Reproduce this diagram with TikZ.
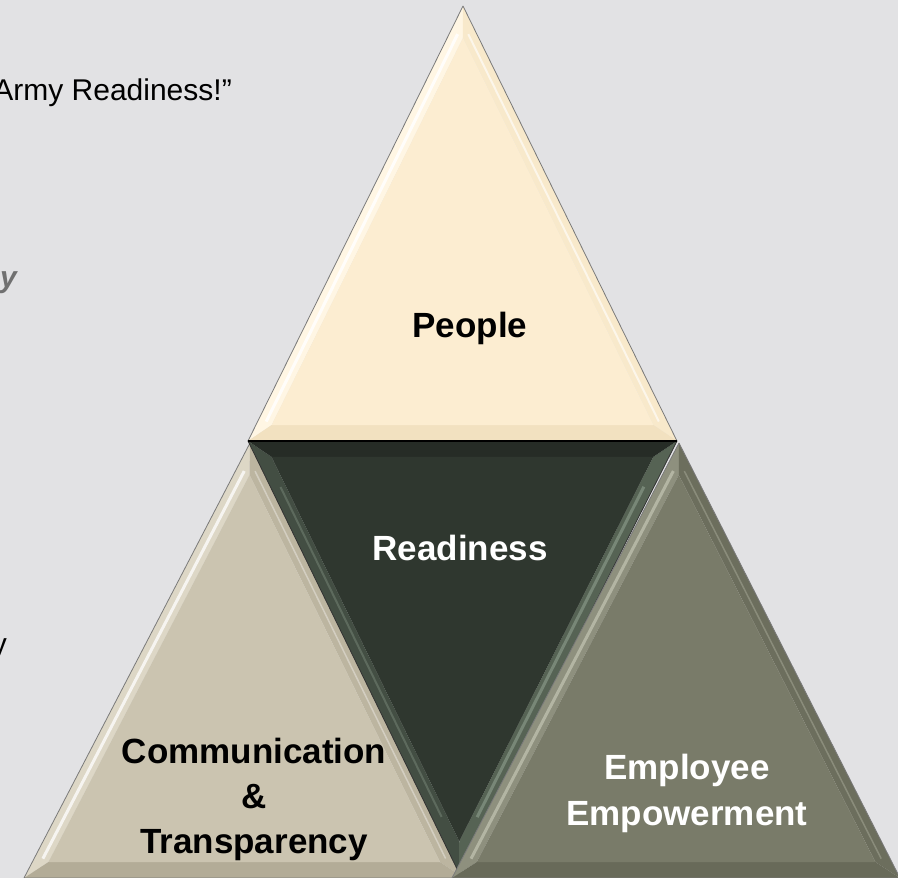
\documentclass[tikz,border=0pt]{standalone}
\usepackage{fontspec}
\setmainfont{Liberation Sans}
\usetikzlibrary{calc}
\definecolor{bg}{HTML}{E2E2E4}
\definecolor{tFace}{HTML}{FCEDD1}
\definecolor{tLeft}{HTML}{FFF6E4}
\definecolor{tRight}{HTML}{F8E9CB}
\definecolor{tBase}{HTML}{F2E1C0}
\definecolor{lFace}{HTML}{CBC4B0}
\definecolor{lLeft}{HTML}{DDD7C6}
\definecolor{lRight}{HTML}{BCB5A0}
\definecolor{lBase}{HTML}{B3AC97}
\definecolor{dFace}{HTML}{2F372F}
\definecolor{dTop}{HTML}{262C26}
\definecolor{dLeft}{HTML}{434E43}
\definecolor{dRight}{HTML}{566354}
\definecolor{dHl}{HTML}{8FA08F}
\definecolor{rFace}{HTML}{797B69}
\definecolor{rLeft}{HTML}{8E907E}
\definecolor{rRight}{HTML}{6C6E5D}
\definecolor{rBase}{HTML}{686A59}
\definecolor{rHl}{HTML}{C4C6B4}
\definecolor{edgeGray}{HTML}{7A7A7A}
\definecolor{fragGray}{HTML}{707070}
\newcommand\bevtri[8]{%
  \coordinate (#1c) at ($1/3*(#2)+1/3*(#3)+1/3*(#4)$);
  \coordinate (#1p) at ($(#1c)!0.89!(#2)$);
  \coordinate (#1q) at ($(#1c)!0.89!(#3)$);
  \coordinate (#1r) at ($(#1c)!0.89!(#4)$);
  \fill[#6] (#2)--(#3)--(#1q)--(#1p)--cycle;
  \fill[#7] (#2)--(#4)--(#1r)--(#1p)--cycle;
  \fill[#8] (#3)--(#4)--(#1r)--(#1q)--cycle;
  \fill[#5] (#1p)--(#1q)--(#1r)--cycle;
}
\newcommand\hiline[6]{% center, p, q, k, style, shorten
  \draw[#5, shorten <=#6, shorten >=#6] ($(#1)!#4!(#2)$) -- ($(#1)!#4!(#3)$);
}
\begin{document}
\begin{tikzpicture}[x=1pt,y=-1pt,
  lbl/.style={font=\fontsize{35}{45}\selectfont\bfseries, inner sep=0pt, anchor=base},
  frag/.style={font=\fontsize{30}{36}\selectfont, inner sep=0pt, anchor=base east},
  edge/.style={draw=edgeGray, line width=0.8pt, line join=round}]
\fill[bg] (0,0) rectangle (898,878);
\useasboundingbox (0,0) rectangle (898,878);
\clip (0,0) rectangle (898,878);

% background text fragments
\node[frag] (army) at (232,100) {Army Readiness!”};
\node[frag, font=\fontsize{30}{36}\selectfont\itshape\bfseries, text=fragGray] (yg) at (17,287) {y};
\node[frag] (yb) at (7,654) {y};

% vertices
\coordinate (T1) at (463,6);   \coordinate (T2) at (248,441); \coordinate (T3) at (677,441);
\coordinate (L1) at (250,443); \coordinate (L2) at (24,878);  \coordinate (L3) at (464,878);
\coordinate (D1) at (248,441); \coordinate (D2) at (677,441); \coordinate (D3) at (459,873);
\coordinate (R1) at (679,443); \coordinate (R2) at (452,878); \coordinate (R3) at (900,878);

% left triangle
\bevtri{L}{L1}{L2}{L3}{lFace}{lLeft}{lRight}{lBase}
\hiline{Lc}{L1}{L2}{0.94}{white, line width=3pt, opacity=0.75}{12pt}
\hiline{Lc}{L1}{L3}{0.94}{white, line width=1.5pt, opacity=0.35}{12pt}
\draw[edge] (L1)--(L2)--(L3)--cycle;

% dark inverted triangle
\bevtri{D}{D3}{D1}{D2}{dFace}{dLeft}{dRight}{dTop}
\hiline{Dc}{D3}{D2}{0.93}{dHl, line width=3pt, opacity=0.6}{40pt}
\hiline{Dc}{D3}{D1}{0.93}{dHl, line width=2pt, opacity=0.35}{40pt}
\draw[edge, draw=black!80] (D1)--(D2)--(D3)--cycle;

% right triangle
\bevtri{R}{R1}{R2}{R3}{rFace}{rLeft}{rRight}{rBase}
\hiline{Rc}{R1}{R2}{0.94}{rHl, line width=3pt, opacity=0.7}{12pt}
\hiline{Rc}{R1}{R3}{0.94}{rHl, line width=1.5pt, opacity=0.35}{12pt}
\draw[edge] (R1)--(R2)--(R3)--cycle;

% top triangle
\bevtri{T}{T1}{T2}{T3}{tFace}{tLeft}{tRight}{tBase}
\hiline{Tc}{T1}{T2}{0.94}{white, line width=3pt, opacity=0.85}{12pt}
\hiline{Tc}{T1}{T3}{0.94}{white, line width=2pt, opacity=0.6}{12pt}
\draw[edge] (T2)--(T1)--(T3);
\draw[black, line width=1.2pt] (T2)--(T3);

% labels
\node[lbl] (people) at (470,337) {People};
\node[lbl, text=white] (readiness) at (460,560) {Readiness};
\node[lbl] (comm) at (254,763) {Communication};
\node[lbl] (amp) at (254,808) {\&};
\node[lbl] (transp) at (254,853) {Transparency};
\node[lbl, text=white] (employee) at (687,779) {Employee};
\node[lbl, text=white] (empower) at (687,825) {Empowerment};
\end{tikzpicture}
\end{document}
